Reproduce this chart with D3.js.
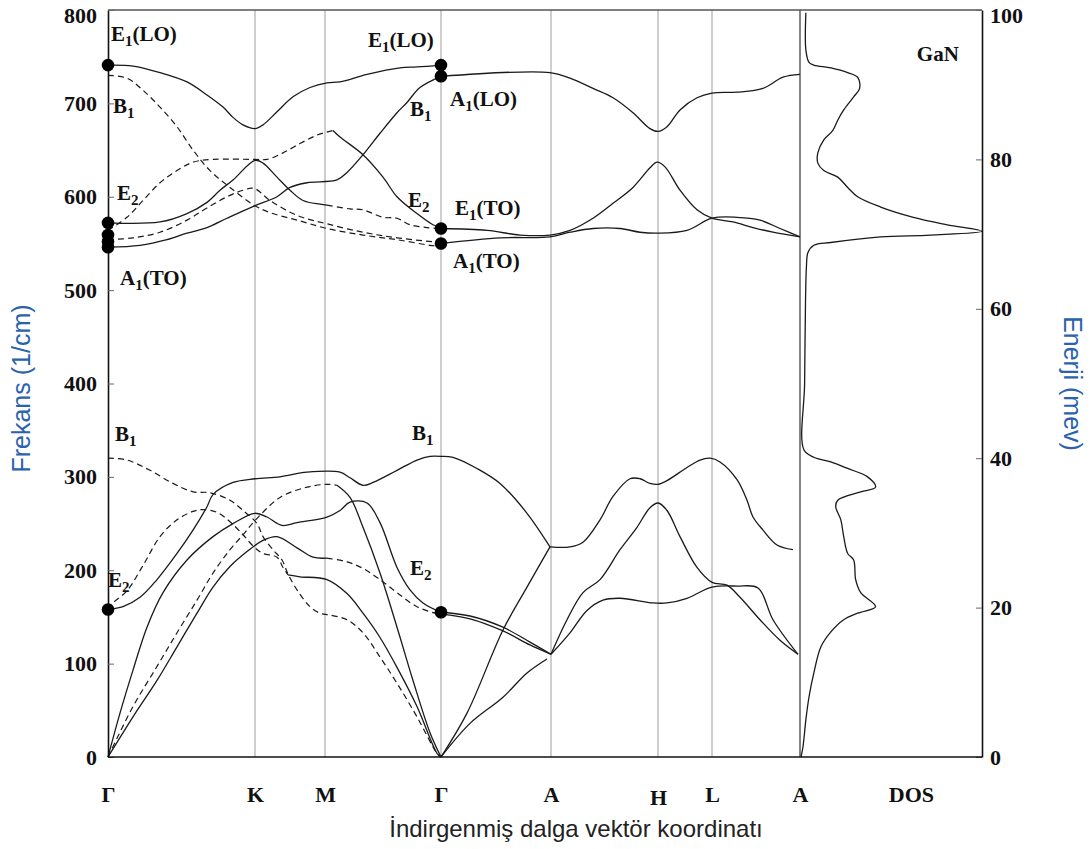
<!DOCTYPE html>
<html>
<head>
<meta charset="utf-8">
<script src="https://cdn.jsdelivr.net/npm/d3@7"></script>
<style>
  body { margin: 0; background: #fff; }
  .tick text { font-family: "Liberation Serif", "Times New Roman", serif; font-weight: bold; font-size: 22px; fill: #111; }
</style>
</head>
<body>
<svg id="chart" width="1090" height="849"></svg>
<script>
// ---- high-symmetry path (path length, arbitrary units) ----
const kLabels = ["Γ", "K", "M", "Γ", "A", "H", "L", "A"];
const kPos = [0, 147, 217, 333, 443, 550, 604, 692];
const freqTicks = [0, 100, 200, 300, 400, 500, 600, 700, 800];
const energyTicks = [0, 20, 40, 60, 80, 100];

// ---- optical branches above the gap, Γ–K–M–Γ  [k, cm^-1] ----
const e1LO_GKMG = [[0,741],[25,740],[52,733],[79,723],[99,709],[115,696],[125,685],[135,677],[147,673],[155,677],[169,691],[185,707],[202,717],[219,722],[232,723],[259,731],[292,738],[309,739],[333,741]];
const b1High_GKMG = [[0,730],[19,727],[35,714],[52,696],[69,675],[85,650],[102,628],[122,610],[146,591],[162,583],[189,575],[219,566],[255,559],[289,554],[322,548],[333,547]];
const opt3Dash_GKM = [[0,564],[19,578],[35,596],[52,615],[69,628],[85,637],[105,640],[147,640],[159,640],[175,647],[192,657],[209,666],[225,671]];
const opt3Solid_MG = [[225,671],[232,664],[255,645],[275,621],[289,600],[309,582],[325,570],[333,567]];
const opt4Dash_GKMG = [[0,554],[25,556],[52,562],[79,575],[99,588],[119,600],[135,607],[146,609],[162,596],[189,580],[219,571],[255,562],[289,556],[333,551]];
const a1TO_GKMG = [[0,546],[32,548],[59,554],[79,561],[99,567],[119,577],[146,590],[169,600],[182,610],[199,615],[229,618],[239,626],[255,645],[272,668],[289,690],[299,701],[312,717],[333,729]];
const e2HighSolid_GKM = [[0,572],[52,573],[79,582],[99,594],[112,607],[125,618],[147,639],[155,636],[169,621],[182,607],[195,596],[212,592],[219,591]];
const e2HighDash_MG = [[219,591],[242,587],[255,586],[275,578],[289,577],[302,570],[319,567],[333,566]];

// ---- optical branches above the gap, Γ–A–H–L–A ----
const upper1_GAHLA = [[333,729],[442,733],[462,727],[485,716],[505,706],[525,690],[542,673],[550,670],[559,675],[572,693],[589,706],[604,711],[629,712],[655,716],[675,728],[692,731]];
const upper2_GAHLA = [[333,566],[379,564],[412,559],[442,559],[462,564],[485,577],[505,593],[525,610],[542,631],[549,637],[557,632],[572,607],[589,586],[604,577],[625,573],[645,567],[665,562],[692,557]];
const upper3_GAHLA = [[333,550],[392,556],[442,557],[462,562],[485,566],[512,566],[532,562],[550,561],[579,564],[604,577],[629,578],[652,575],[672,566],[692,557]];

// ---- acoustic and low optical branches, Γ–K–M–Γ ----
const low1_GKMG = [[0,158],[15,161],[32,171],[49,190],[69,218],[85,243],[99,268],[105,281],[125,294],[147,298],[172,300],[199,305],[232,305],[242,299],[255,291],[265,294],[289,307],[309,318],[322,322],[333,322]];
const low2_GKMG = [[0,0],[12,47],[25,93],[39,139],[55,176],[79,211],[105,236],[125,250],[147,261],[159,257],[174,248],[189,251],[219,257],[232,264],[242,273],[259,272],[272,251],[289,203],[302,179],[315,165],[333,155]];
const low3Solid_GKM = [[0,0],[25,43],[49,82],[69,118],[89,154],[105,182],[122,204],[139,220],[155,232],[169,236],[189,224],[205,214],[219,213]];
const low3Dash_MG = [[219,213],[239,209],[255,202],[272,190],[289,176],[309,161],[329,154],[333,155]];
const low4Dash_GKM = [[0,0],[25,54],[49,97],[69,133],[89,168],[105,197],[122,222],[135,238],[146,252],[172,278],[199,289],[219,292],[229,291]];
const low4Solid_MG = [[229,291],[242,278],[255,246],[272,197],[289,139],[305,82],[322,26],[333,0]];
const e2LowDash_GK = [[0,158],[5,165],[19,178],[35,205],[52,236],[69,254],[85,263],[95,265],[109,262],[122,252],[135,238],[146,225],[155,218],[169,214],[175,203],[180,195]];
const e2LowSolid_KMG = [[180,195],[192,193],[219,190],[239,175],[255,154],[272,128],[289,96],[309,54],[329,4],[333,0]];
const b1LowDash_GKMG = [[0,320],[19,318],[42,307],[65,293],[85,284],[102,283],[122,275],[135,264],[149,250],[155,236],[165,222],[174,211],[180,196],[189,179],[202,161],[212,154],[222,152],[239,147],[255,133],[272,107],[289,79],[309,43],[329,4],[333,0]];

// ---- acoustic and low optical branches, Γ–A–H–L–A ----
const lowB1_GA = [[333,322],[345,321],[369,309],[392,293],[419,261],[442,225]];
const low_AHLA = [[442,225],[462,225],[475,230],[492,254],[505,279],[522,298],[532,298],[542,293],[550,292],[559,296],[579,310],[592,318],[602,320],[612,316],[629,297],[639,275],[645,257],[655,243],[669,227],[685,222]];
const la_GA = [[333,0],[359,47],[395,136],[419,182],[442,225]];
const ta_GA = [[333,0],[362,36],[395,64],[419,90],[439,105]];
const e2a_GA = [[333,155],[362,151],[395,139],[422,123],[443,110]];
const e2b_GA = [[333,153],[362,148],[395,135],[422,120],[443,110]];
const toH_AHLA = [[443,110],[459,147],[475,176],[492,190],[512,222],[529,246],[542,267],[550,272],[559,264],[572,236],[589,203],[604,187],[619,184],[632,171],[652,147],[672,125],[690,110]];
const toL_AHLA = [[443,110],[462,133],[479,157],[495,168],[512,170],[545,165],[559,165],[579,170],[604,182],[629,183],[650,181],[665,147],[690,110]];

// ---- density of states [cm^-1, arbitrary units] ----
const dosCurve = [[797,2.7],[757,2.7],[744,4.4],[741,7.1],[738,16.5],[733,25.8],[728,31.3],[716,32.4],[707,29.1],[693,23.6],[682,20.3],[671,17.6],[661,12.6],[647,9.3],[636,9.3],[628,12.6],[621,20.3],[610,25.8],[600,31.3],[589,44.0],[578,62.1],[570,80.8],[563,100],[559,71.4],[557,44.0],[551,16.5],[548,7.1],[540,3.8],[525,3.0],[489,2.5],[400,2.0],[329,1.6],[321,7.1],[316,16.5],[309,25.8],[300,36.8],[289,41.2],[284,33.0],[275,20.3],[268,19.2],[254,22.0],[236,23.6],[218,25.8],[211,29.1],[190,30.2],[176,33.0],[161,41.2],[154,31.3],[147,23.6],[134,16.5],[118,11.0],[90,7.1],[64,4.4],[40,2.7],[11,1.1],[0,0]];

// ---- zone-centre modes and their labels ----
const modeDots = [[0,741],[0,572],[0,559],[0,552],[0,546],[333,741],[333,729],[333,566],[333,550],[0,158],[333,155]];
const modeLabels = [
  { base: "E", sub: "1", tail: "(LO)", k: 3,   f: 767 },
  { base: "B", sub: "1", tail: "",     k: 5,   f: 690 },
  { base: "E", sub: "2", tail: "",     k: 9,   f: 597 },
  { base: "A", sub: "1", tail: "(TO)", k: 12,  f: 505 },
  { base: "E", sub: "1", tail: "(LO)", k: 260, f: 760 },
  { base: "B", sub: "1", tail: "",     k: 302, f: 687 },
  { base: "E", sub: "2", tail: "",     k: 300, f: 589 },
  { base: "A", sub: "1", tail: "(LO)", k: 342, f: 697 },
  { base: "E", sub: "1", tail: "(TO)", k: 347, f: 580 },
  { base: "A", sub: "1", tail: "(TO)", k: 345, f: 524 },
  { base: "B", sub: "1", tail: "",     k: 7,   f: 338 },
  { base: "B", sub: "1", tail: "",     k: 304, f: 339 },
  { base: "E", sub: "2", tail: "",     k: 0,   f: 182 },
  { base: "E", sub: "2", tail: "",     k: 302, f: 195 }
];

const solidBranches = [e1LO_GKMG, opt3Solid_MG, a1TO_GKMG, e2HighSolid_GKM,
  upper1_GAHLA, upper2_GAHLA, upper3_GAHLA,
  low1_GKMG, low2_GKMG, low3Solid_GKM, low4Solid_MG, e2LowSolid_KMG,
  lowB1_GA, low_AHLA, la_GA, ta_GA, e2a_GA, e2b_GA, toH_AHLA, toL_AHLA];
const dashedBranches = [b1High_GKMG, opt3Dash_GKM, opt4Dash_GKMG, e2HighDash_MG,
  low3Dash_MG, low4Dash_GKM, e2LowDash_GK, b1LowDash_GKMG];

// ---- scales ----
const svg = d3.select("#chart");
const x = d3.scaleLinear().domain([0, 692]).range([108, 800]);
const y = d3.scaleLinear().domain([0, 800]).range([757, 10]);
const yE = d3.scaleLinear().domain([0, 100]).range([757, 10]);
const xDos = d3.scaleLinear().domain([0, 100]).range([801, 982]);
const serif = '"Liberation Serif", "Times New Roman", serif';
const sans = '"Liberation Sans", Arial, sans-serif';

// vertical guides at the high-symmetry points
svg.append("g").selectAll("line").data(kPos.slice(1, -1)).join("line")
  .attr("x1", d => x(d)).attr("x2", d => x(d))
  .attr("y1", y(800)).attr("y2", y(0))
  .attr("stroke", "#a6a6a6").attr("stroke-width", 1.1);
svg.append("line")
  .attr("x1", x(692)).attr("x2", x(692)).attr("y1", y(800)).attr("y2", y(0))
  .attr("stroke", "#777").attr("stroke-width", 1.8);

// frame: top edge
svg.append("line").attr("x1", 108).attr("x2", 982).attr("y1", y(800)).attr("y2", y(800))
  .attr("stroke", "#555").attr("stroke-width", 1.5);

// dispersion branches
const branchLine = d3.line().x(d => x(d[0])).y(d => y(d[1])).curve(d3.curveCatmullRom.alpha(0.5));
const gB = svg.append("g").attr("fill", "none");
gB.selectAll("path.solid").data(solidBranches).join("path").attr("class", "solid")
  .attr("d", branchLine).attr("stroke", "#1a1a1a").attr("stroke-width", 1.3);
gB.selectAll("path.dash").data(dashedBranches).join("path").attr("class", "dash")
  .attr("d", branchLine).attr("stroke", "#1a1a1a").attr("stroke-width", 1.2)
  .attr("stroke-dasharray", "6,4");

// density of states
const dosLine = d3.line().x(d => xDos(d[1])).y(d => y(d[0])).curve(d3.curveCatmullRom.alpha(0.5));
svg.append("path").datum(dosCurve).attr("d", dosLine)
  .attr("fill", "none").attr("stroke", "#1a1a1a").attr("stroke-width", 1.3);

// left axis (frequency)
const axL = svg.append("g").attr("transform", `translate(${x(0)},0)`)
  .call(d3.axisLeft(y).tickValues(freqTicks).tickSizeInner(-6).tickSizeOuter(0).tickPadding(11));
axL.select(".domain").attr("stroke", "#111").attr("stroke-width", 1.6);
axL.selectAll(".tick line").attr("stroke", "#666");
axL.selectAll(".tick text").filter(d => d === 800).attr("dy", "0.55em");

// right axis (energy)
const axR = svg.append("g").attr("transform", "translate(982,0)")
  .call(d3.axisRight(yE).tickValues(energyTicks).tickSizeInner(-6).tickSizeOuter(0).tickPadding(8));
axR.select(".domain").attr("stroke", "#111").attr("stroke-width", 1.6);
axR.selectAll(".tick line").attr("stroke", "#666");
axR.selectAll(".tick text").filter(d => d === 100).attr("dy", "0.55em");

// bottom axis (path labels)
const axB = svg.append("g").attr("transform", `translate(0,${y(0)})`)
  .call(d3.axisBottom(x).tickValues(kPos).tickFormat((d, i) => kLabels[i]).tickSize(0).tickPadding(29));
axB.select(".domain").remove();
axB.selectAll(".tick").filter((d, i) => kLabels[i] === "H").select("text").attr("dy", "0.85em");
svg.append("line").attr("x1", 108).attr("x2", 982).attr("y1", y(0)).attr("y2", y(0))
  .attr("stroke", "#111").attr("stroke-width", 1.6);
svg.append("text").attr("x", xDos(61)).attr("y", y(0) + 45)
  .attr("text-anchor", "middle").attr("font-family", serif).attr("font-weight", "bold")
  .attr("font-size", 22).attr("fill", "#111").text("DOS");

// zone-centre mode markers
svg.append("g").selectAll("circle").data(modeDots).join("circle")
  .attr("cx", d => x(d[0])).attr("cy", d => y(d[1])).attr("r", 6.3).attr("fill", "#000");

// mode labels with subscripts
const gL = svg.append("g").attr("font-family", serif).attr("font-weight", "bold")
  .attr("font-size", 21).attr("fill", "#111");
modeLabels.forEach(m => {
  const t = gL.append("text").attr("x", x(m.k)).attr("y", y(m.f));
  t.append("tspan").text(m.base);
  t.append("tspan").attr("font-size", 15).attr("dy", 5).text(m.sub);
  if (m.tail) t.append("tspan").attr("dy", -5).text(m.tail);
});

// material name
svg.append("text").attr("x", xDos(64)).attr("y", y(745))
  .attr("font-family", serif).attr("font-weight", "bold").attr("font-size", 21)
  .attr("fill", "#111").text("GaN");

// axis titles
svg.append("text").attr("transform", `translate(30,${y(400) + 5}) rotate(-90)`)
  .attr("text-anchor", "middle").attr("font-family", sans).attr("font-size", 25)
  .attr("fill", "#2a62ad").text("Frekans (1/cm)");
svg.append("text").attr("transform", `translate(1064,${y(400)}) rotate(90)`)
  .attr("text-anchor", "middle").attr("font-family", sans).attr("font-size", 25)
  .attr("fill", "#2a62ad").text("Enerji (mev)");
svg.append("text").attr("x", 576).attr("y", 837)
  .attr("text-anchor", "middle").attr("font-family", sans).attr("font-size", 24)
  .attr("fill", "#222").text("İndirgenmiş dalga vektör koordinatı");
</script>
</body>
</html>
